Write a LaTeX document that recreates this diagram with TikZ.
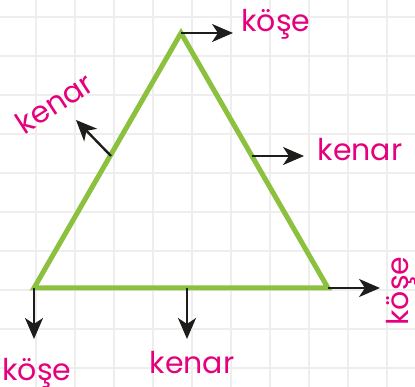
\documentclass[tikz,border=0pt]{standalone}
\usepackage{fontspec}
\setmainfont{Poppins}
\usetikzlibrary{arrows.meta}
\definecolor{tri}{HTML}{8CC03F}
\definecolor{lbl}{HTML}{E5007D}
\definecolor{arr}{HTML}{1D1D1B}
\definecolor{gridc}{HTML}{EEEEEE}
\begin{document}
\begin{tikzpicture}[x=1pt,y=-1pt,
  lab/.style={text=lbl, font=\fontsize{30}{30}\selectfont, inner sep=0pt},
  pointer/.style={draw=arr, line width=2.4pt, -{Stealth[length=21pt,width=18pt,inset=6pt]}},
  side/.style={draw=tri, line width=5pt, line join=miter},
  gridline/.style={draw=gridc, line width=1.5pt}]
\useasboundingbox (0,0) rectangle (415,387);
\fill[white] (0,0) rectangle (415,387);
\foreach \x in {36,75,...,400} \draw[gridline] (\x,0) -- (\x,387);
\foreach \y in {17,56,...,380} \draw[gridline] (0,\y) -- (415,\y);
% triangle
\coordinate (A) at (181,33);
\coordinate (B) at (34,288);
\coordinate (C) at (328,288);
\coordinate (L) at (111,156);
\coordinate (R) at (252,156);
\coordinate (M) at (187,288);
\draw[side] (A) -- (B) -- (C) -- cycle;
% arrow tips
\coordinate (tA) at (233,33);
\coordinate (tB) at (34,339);
\coordinate (tC) at (380,288);
\coordinate (tL) at (76,120);
\coordinate (tR) at (304,156);
\coordinate (tM) at (187,339);
\draw[pointer] (A) -- (tA);
\draw[pointer] (B) -- (tB);
\draw[pointer] (C) -- (tC);
\draw[pointer] (L) -- (tL);
\draw[pointer] (R) -- (tR);
\draw[pointer] (M) -- (tM);
% labels
\node[lab, anchor=base] (kA) at (276,32) {köşe};
\node[lab, anchor=base] (kB) at (37,380) {köşe};
\node[lab, anchor=base, rotate=90] (kC) at (408,291) {köşe};
\node[lab, anchor=base] (nR) at (360,161) {kenar};
\node[lab, anchor=base] (nM) at (192,373) {kenar};
\node[lab, anchor=base, rotate=33] (nL) at (60,112) {kenar};
\end{tikzpicture}
\end{document}
